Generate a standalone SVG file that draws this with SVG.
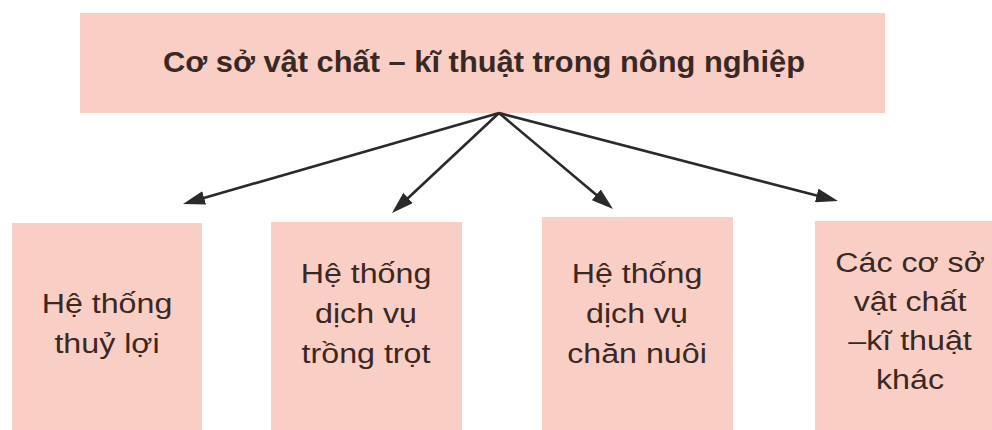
<svg xmlns="http://www.w3.org/2000/svg" width="992" height="430" viewBox="0 0 992 430">
<style>
.box{fill:#f9cfc5;}
.title{font-family:"Liberation Sans",Arial,sans-serif;font-weight:bold;font-size:29px;fill:#3a2824;text-anchor:middle;}
.lbl{font-family:"Liberation Sans",Arial,sans-serif;font-size:28px;fill:#3a2824;text-anchor:middle;}
.conn{stroke:#2a2a2a;stroke-width:2.6;fill:none;marker-end:url(#ah);}
</style>
<defs>
<marker id="ah" markerUnits="userSpaceOnUse" markerWidth="22" markerHeight="14" refX="12" refY="7" orient="auto">
<path d="M0,0 L22,7 L0,14 z" fill="#2a2a2a"/>
</marker>
</defs>
<rect width="992" height="430" fill="#ffffff"/>
<g id="top">
<rect class="box" x="80" y="13" width="805" height="100"/>
<text class="title" x="484" y="72" textLength="642" lengthAdjust="spacingAndGlyphs">Cơ sở vật chất – kĩ thuật trong nông nghiệp</text>
</g>
<g id="n1">
<rect class="box" x="12" y="223" width="190" height="220"/>
<g transform="translate(107,0) scale(1.15,1)">
<text class="lbl" x="0" y="313">Hệ thống</text>
<text class="lbl" x="0" y="353">thuỷ lợi</text>
</g>
</g>
<g id="n2">
<rect class="box" x="271" y="222" width="191" height="220"/>
<g transform="translate(366,0) scale(1.15,1)">
<text class="lbl" x="0" y="283">Hệ thống</text>
<text class="lbl" x="0" y="323">dịch vụ</text>
<text class="lbl" x="0" y="363">trồng trọt</text>
</g>
</g>
<g id="n3">
<rect class="box" x="542" y="217" width="191" height="225"/>
<g transform="translate(637,0) scale(1.15,1)">
<text class="lbl" x="0" y="283">Hệ thống</text>
<text class="lbl" x="0" y="323">dịch vụ</text>
<text class="lbl" x="0" y="363">chăn nuôi</text>
</g>
</g>
<g id="n4">
<rect class="box" x="815" y="221" width="190" height="220"/>
<g transform="translate(910,0) scale(1.15,1)">
<text class="lbl" x="0" y="272">Các cơ sở</text>
<text class="lbl" x="0" y="311">vật chất</text>
<text class="lbl" x="0" y="350">–kĩ thuật</text>
<text class="lbl" x="0" y="389">khác</text>
</g>
</g>
<g id="connectors">
<line class="conn" x1="499" y1="113" x2="192.6" y2="201.2"/>
<line class="conn" x1="499" y1="113" x2="399.3" y2="206.2"/>
<line class="conn" x1="499" y1="113" x2="605.4" y2="202.6"/>
<line class="conn" x1="499" y1="113" x2="828.3" y2="198.5"/>
</g>
</svg>
